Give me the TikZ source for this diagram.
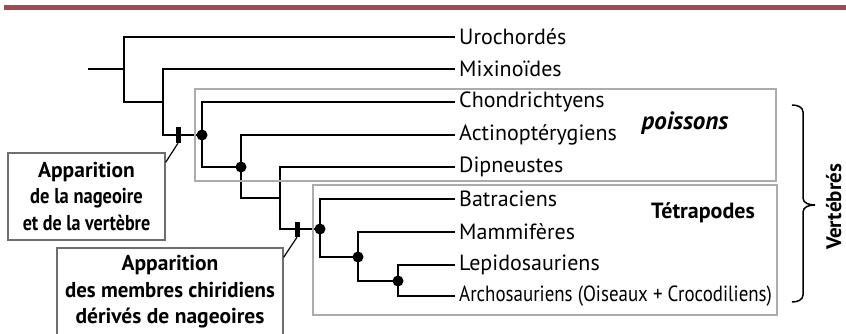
\documentclass[tikz,border=0pt]{standalone}
\usepackage{fontspec}
\setmainfont{PT Sans}
\usepackage{tikz}
\usetikzlibrary{positioning,fit,backgrounds,calc}
\definecolor{header}{RGB}{160,74,84}
\definecolor{frame}{RGB}{172,172,172}
\definecolor{notebox}{RGB}{110,110,110}

\begin{document}
\begin{tikzpicture}[
    x=1pt, y=-1pt,
    branch/.style={line width=1.8pt, draw=black},
    leaf/.style={anchor=west, inner sep=4pt, font=\fontsize{22}{26}\selectfont},
    knot/.style={circle, fill=black, inner sep=0pt, minimum size=11pt},
    tick/.style={rectangle, fill=black, inner sep=0pt, minimum width=5pt, minimum height=16pt},
    group/.style={draw=frame, line width=1.5pt, inner sep=0pt},
    grouplabel/.style={font=\fontsize{22}{26}\selectfont\bfseries},
    note/.style={draw=notebox, line width=1.2pt, align=center, inner sep=0pt, font=\fontsize{21.5}{26.5}\selectfont\bfseries},
    pointer/.style={line width=1.2pt, draw=black},
    vbrace/.style={line width=1.5pt, draw=black},
]
\useasboundingbox (0,0) rectangle (846,334);

% === HEADER RULE ===
\draw[header, line width=5pt] (4,7.5) -- (846,7.5);

% === LEAVES ===
\node[leaf] (uro) at (455,37) {Urochordés};
\node[leaf] (mix) at (455,69) {Mixinoïdes};
\node[leaf] (chon) at (455,102) {Chondrichtyens};
\node[leaf] (actino) at (455,135) {Actinoptérygiens};
\node[leaf] (dip) at (455,167) {Dipneustes};
\node[leaf] (batr) at (455,199) {Batraciens};
\node[leaf] (mamm) at (455,232) {Mammifères};
\node[leaf] (lepi) at (455,265) {Lepidosauriens};
\node[leaf] (archo) at (455,296) {\scalebox{0.86}[1]{Archosauriens (Oiseaux + Crocodiliens)}};

% === INTERNAL NODES ===
\coordinate (stem) at (88,69);
\coordinate (n1) at (124,69);
\coordinate (n2) at (163,102);
\coordinate (n3) at (202,135);
\coordinate (n4) at (241,167);
\coordinate (n5) at (280,198);
\coordinate (n6) at (320,229);
\coordinate (n7) at (358,257);
\coordinate (n8) at (398,281);

% === BRANCHES ===
\draw[branch] (stem) -- (n1);
\draw[branch] (n1) |- (uro.west);
\draw[branch] (n1) |- (n2);
\draw[branch] (n2) |- (mix.west);
\draw[branch] (n2) |- (n3);
\draw[branch] (n3) |- (chon.west);
\draw[branch] (n3) |- (n4);
\draw[branch] (n4) |- (actino.west);
\draw[branch] (n4) |- (n5);
\draw[branch] (n5) |- (dip.west);
\draw[branch] (n5) |- (n6);
\draw[branch] (n6) |- (batr.west);
\draw[branch] (n6) |- (n7);
\draw[branch] (n7) |- (mamm.west);
\draw[branch] (n7) |- (n8);
\draw[branch] (n8) |- (lepi.west);
\draw[branch] (n8) |- (archo.west);

% === DOTS AND TICKS ===
\node[knot] (k3) at (n3) {};
\node[knot] (k4) at (n4) {};
\node[knot] (k6) at (n6) {};
\node[knot] (k7) at (n7) {};
\node[knot] (k8) at (n8) {};
\node[tick] (bar1) at (178,135) {};
\node[tick, minimum height=15pt] (bar2) at (297,229.5) {};

% === GROUPS ===
\node[group, fit={(195,89) (776,181)}] (fishbox) {};
\node[group, fit={(313,185) (777,315)}] (tetrabox) {};
\node[grouplabel, font=\fontsize{25}{28}\selectfont\bfseries\itshape] (fishlabel) at (685,123) {poissons};
\node[grouplabel] (tetralabel) at (703,213) {Tétrapodes};

% === BRACE ===
\draw[vbrace] (792,105) to[out=0,in=90] (803,112) -- (803,198) to[out=-90,in=180] (815,205)
    to[out=180,in=90] (803,212) -- (803,295) to[out=-90,in=0] (792,302);
\node[rotate=90, anchor=base, inner sep=0pt, font=\fontsize{21}{25}\selectfont\bfseries] (vertlabel) at (841,207) {Vertébrés};

% === ANNOTATIONS ===
\node[note, minimum width=157pt, minimum height=87pt] (finnote) at (86.5,196.5)
    {Apparition\\\scalebox{0.86}[1]{de la nageoire}\\\scalebox{0.84}[1]{et de la vertèbre}};
\node[note, minimum width=226pt, minimum height=88pt] (limbnote) at (170,292)
    {Apparition\\\scalebox{0.97}[1]{des membres chiridiens}\\dérivés de nageoires};
\draw[pointer] ([yshift=-10pt]finnote.north east) -- (bar1.south);
\draw[pointer] ([yshift=-10pt]limbnote.north east) -- (bar2.south);

\end{tikzpicture}
\end{document}
